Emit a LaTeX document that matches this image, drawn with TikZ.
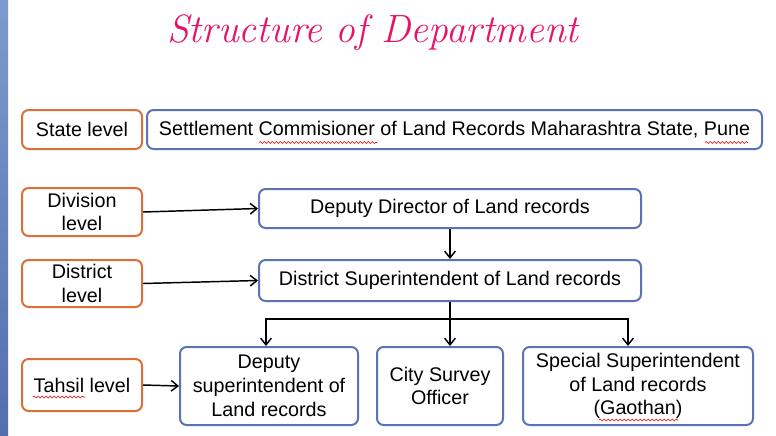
\documentclass[tikz,border=0pt]{standalone}
\usepackage{fontspec}
\setsansfont{Liberation Sans}
\usetikzlibrary{arrows.meta,decorations.pathmorphing}

\definecolor{lvlorange}{HTML}{DC6F38}
\definecolor{boxblue}{HTML}{5874B6}
\definecolor{titlepink}{HTML}{E8136B}

\tikzset{
  lvl/.style={draw=lvlorange, line width=1.5pt, rounded corners=5pt, inner sep=0pt,
    align=center, font=\sffamily\fontsize{14.8}{17.8}\selectfont, minimum width=90pt},
  office/.style={draw=boxblue, line width=1.5pt, rounded corners=5pt, inner sep=0pt,
    align=center, font=\sffamily\fontsize{14.8}{17.8}\selectfont},
  arr/.style={line width=1.1pt, -{Straight Barb[length=5pt,width=8pt]}},
  spell/.style={red!85!black, line width=0.45pt,
    decorate, decoration={snake, amplitude=0.7pt, segment length=3pt}}
}

\begin{document}
\begin{tikzpicture}[x=0.75pt, y=-0.75pt]
  \useasboundingbox (0,0) rectangle (776,436);
  \fill[white] (0,0) rectangle (776,436);
  \shade[top color=blue!30!cyan!10!boxblue!75, bottom color=boxblue!95!black] (0,0) rectangle (8,436); % slide edge

  % Title
  \node[text=titlepink, font=\rmfamily\itshape\fontsize{29.6}{32}\selectfont, anchor=base] (title) at (373,42) {Structure of Department};

  % Levels
  \node[lvl, minimum height=29.25pt] (state) at (82,129.5) {State level};
  \node[lvl, minimum height=36pt] (div) at (82,212) {Division\\level};
  \node[lvl, minimum height=35.25pt] (dist) at (82,283.5) {District\\level};
  \node[lvl, minimum height=39pt] (tahsil) at (82,385) {Tahsil level};

  % Offices
  \node[office, minimum width=461.25pt, minimum height=29.25pt] (scl) at (454.5,129.5) {Settlement Commisioner of Land Records Maharashtra State, Pune};
  \node[office, minimum width=286.5pt, minimum height=29.25pt] (ddlr) at (450,208.5) {Deputy Director of Land records};
  \node[office, minimum width=286.5pt, minimum height=30.75pt] (dslr) at (450,280.5) {District Superintendent of Land records};
  \node[office, minimum width=133.5pt, minimum height=58.5pt] (dsup) at (269,386) {Deputy\\superintendent of\\Land records};
  \node[office, minimum width=94.5pt, minimum height=58.5pt] (cso) at (440,386) {City Survey\\Officer};
  \node[office, minimum width=172.5pt, minimum height=58.5pt] (sslr) at (638,386) {Special Superintendent\\of Land records\\(Gaothan)};

  % Level arrows
  \draw[arr] (div.east) -- (ddlr.west);
  \draw[arr] (dist.east) -- (dslr.west);
  \draw[arr] (tahsil.east) -- (dsup.west);

  % Hierarchy
  \draw[arr] (ddlr.south) -- (dslr.north);
  \coordinate (bus) at (450,319);
  \coordinate (busl) at (266,319);
  \coordinate (busr) at (628,319);
  \draw[line width=1.1pt] (dslr.south) -- (bus);
  \draw[arr] (bus) -- (busl) -- (busl |- dsup.north);
  \draw[arr] (bus) -- (bus |- cso.north);
  \draw[arr] (bus) -- (busr) -- (busr |- sslr.north);

  % Spell-check marks
  \draw[spell] (259,142.5) -- (377,142.5);
  \draw[spell] (705,142.5) -- (748,142.5);
  \draw[spell] (33,397) -- (85,397);
  \draw[spell] (599,420) -- (678,420);
\end{tikzpicture}
\end{document}
